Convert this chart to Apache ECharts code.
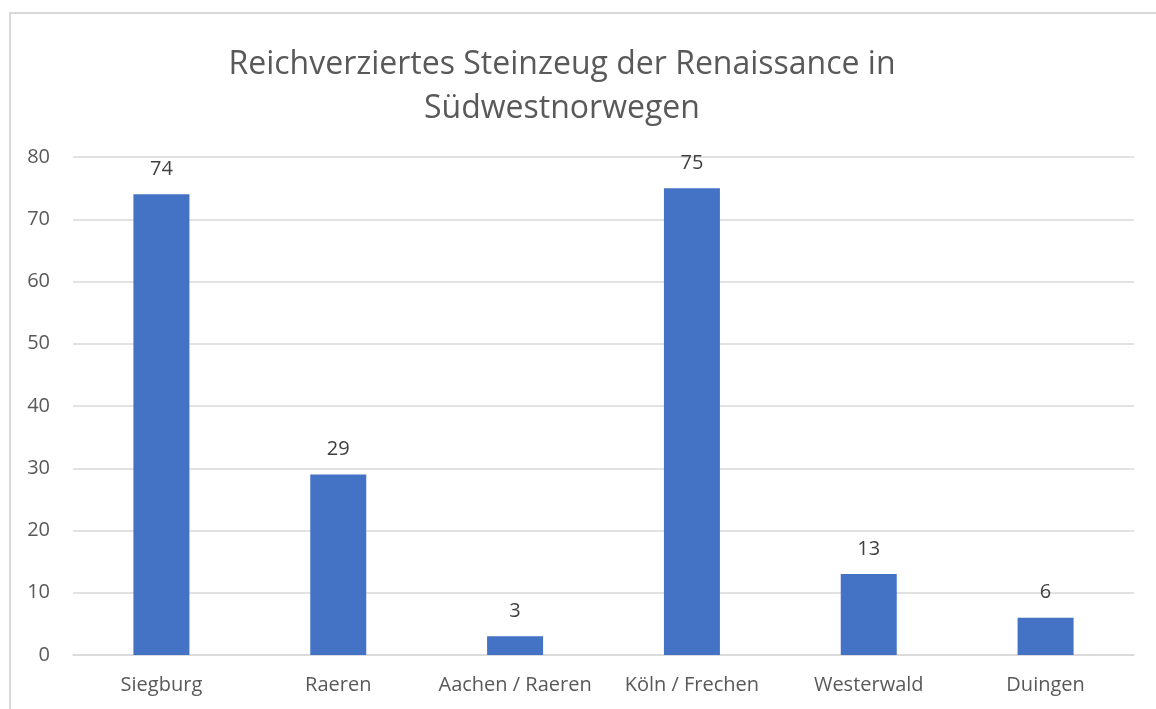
<!DOCTYPE html>
<html>
<head>
<meta charset="utf-8">
<script src="https://cdn.jsdelivr.net/npm/echarts@6/dist/echarts.min.js"></script>
<style>
  html, body { margin: 0; padding: 0; background: #fff; overflow: hidden; }
  #frame { position: absolute; left: 9px; top: 12px; width: 1200px; height: 760px;
           border: 2px solid #d9d9d9; box-sizing: border-box; }
  #chartContainer { position: absolute; left: 0; top: 0; width: 1156px; height: 709px; }
</style>
</head>
<body>
<div id="frame"></div>
<div id="chartContainer"></div>
<script>
// Daten
const categories = ['Siegburg', 'Raeren', 'Aachen / Raeren', 'Köln / Frechen', 'Westerwald', 'Duingen'];
const counts = [74, 29, 3, 75, 13, 6];
const titleText = 'Reichverziertes Steinzeug der Renaissance in\nSüdwestnorwegen';

const fontName = "'Open Sans', 'Noto Sans', sans-serif";
const chart = echarts.init(document.getElementById('chartContainer'));

chart.setOption({
  animation: false,
  title: {
    text: titleText,
    left: 557, top: 38, textAlign: 'center',
    textStyle: { fontFamily: fontName, fontSize: 32, fontWeight: 'normal', color: '#595959', lineHeight: 44 }
  },
  grid: { left: 73, right: 22, top: 157, bottom: 54, containLabel: false },
  xAxis: {
    type: 'category', data: categories,
    axisLine: { lineStyle: { color: '#d9d9d9', width: 1.5 } },
    axisTick: { show: false },
    axisLabel: { interval: 0, fontFamily: fontName, fontSize: 20, color: '#595959', margin: 20 }
  },
  yAxis: {
    type: 'value', min: 0, max: 80, interval: 10,
    axisLine: { show: false }, axisTick: { show: false },
    splitLine: { lineStyle: { color: '#d9d9d9', width: 1.5 } },
    axisLabel: { fontFamily: fontName, fontSize: 20, color: '#595959', margin: 23 }
  },
  series: [{
    type: 'bar', data: counts, barWidth: 56,
    itemStyle: { color: '#4472c4' },
    label: { show: true, position: 'top', distance: 15, fontFamily: fontName, fontSize: 20, color: '#404040' }
  }]
});
</script>
</body>
</html>
